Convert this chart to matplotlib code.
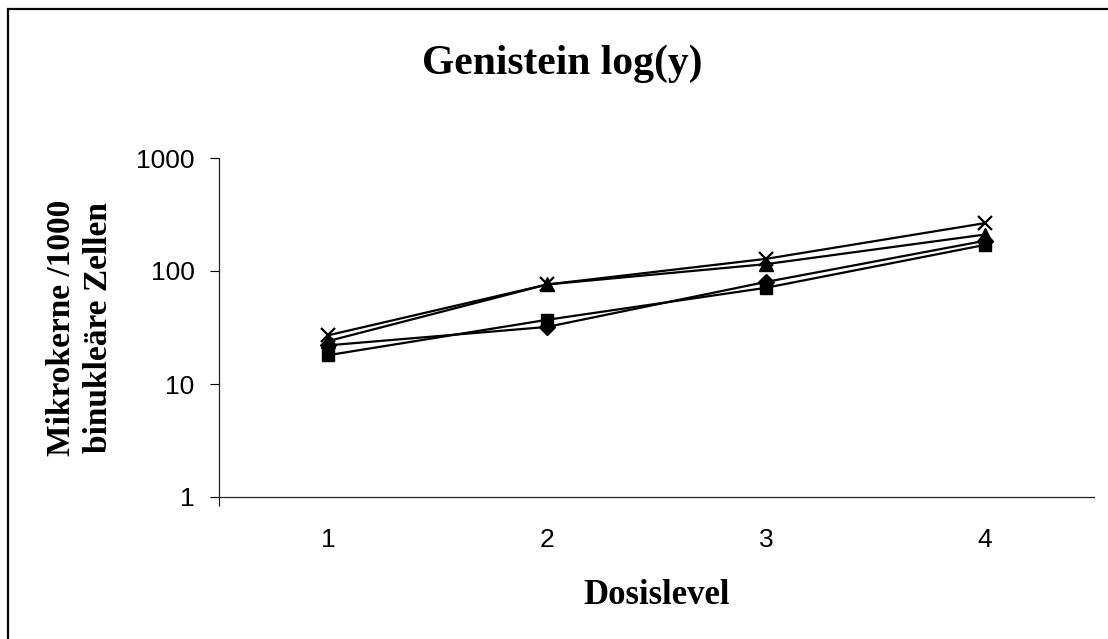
import numpy as np
import matplotlib
matplotlib.use("Agg")
import matplotlib.pyplot as plt
from matplotlib.patches import Rectangle

# values (log scale)
dose = [1, 2, 3, 4]
diamond = [22, 32, 80, 185]
square = [18, 37, 71, 170]
triangle = [24, 76, 115, 210]
cross = [27, 76, 128, 265]

W, H = 1108, 639
fig = plt.figure(figsize=(W / 100, H / 100), dpi=100)
fig.patch.set_facecolor("white")

# outer chart frame (right/bottom edges fall outside the image)
frame = Rectangle((8 / W, -0.2), 1.5, 1.2 - 9 / H, transform=fig.transFigure,
                  fill=False, ec="black", lw=1.6)
fig.patches.append(frame)

ax = fig.add_axes([219 / W, 1 - 497 / H, (1094 - 219) / W, (497 - 158) / H])

serif = "Liberation Serif"
sans = "Liberation Sans"

kw = dict(color="black", lw=1.6)
ax.plot(dose, diamond, marker="D", ms=8, mfc="black", mec="black", **kw)
ax.plot(dose, square, marker="s", ms=8.5, mfc="black", mec="black", **kw)
ax.plot(dose, triangle, marker="^", ms=10, mfc="black", mec="black", **kw)
ax.plot(dose, cross, marker="x", ms=10, mew=1.6, mec="black", **kw)

ax.set_yscale("log")
ax.set_ylim(1, 1000)
ax.set_xlim(0.5, 4.5)
ax.set_yticks([1, 10, 100, 1000])
ax.set_yticklabels(["1", "10", "100", "1000"], fontfamily=sans, fontsize=19)
ax.yaxis.set_minor_locator(matplotlib.ticker.NullLocator())
ax.set_xticks(dose)
ax.set_xticklabels([str(d) for d in dose], fontfamily=sans, fontsize=19)
ax.set_xticks([0.5], minor=True)
ax.tick_params(axis="x", which="major", length=0, pad=22)
ax.tick_params(axis="x", which="minor", length=6.5, direction="out", width=0.8)
ax.tick_params(axis="y", which="major", length=6.5, direction="out", width=0.8,
               pad=11)

for s in ("top", "right"):
    ax.spines[s].set_visible(False)
for s in ("left", "bottom"):
    ax.spines[s].set_linewidth(0.9)
    ax.spines[s].set_color("#222222")

ax.set_xlabel("Dosislevel", fontfamily=serif, fontweight="bold", fontsize=25,
              labelpad=20)
ax.set_ylabel("Mikrokerne /1000\nbinukleäre Zellen", fontfamily=serif,
              fontweight="bold", fontsize=24, labelpad=16, linespacing=1.25)

fig.text(562 / W, 1 - 64 / H, "Genistein log(y)", fontfamily=serif,
         fontweight="bold", fontsize=30, ha="center", va="center")

fig.savefig("out.png", dpi=100)
